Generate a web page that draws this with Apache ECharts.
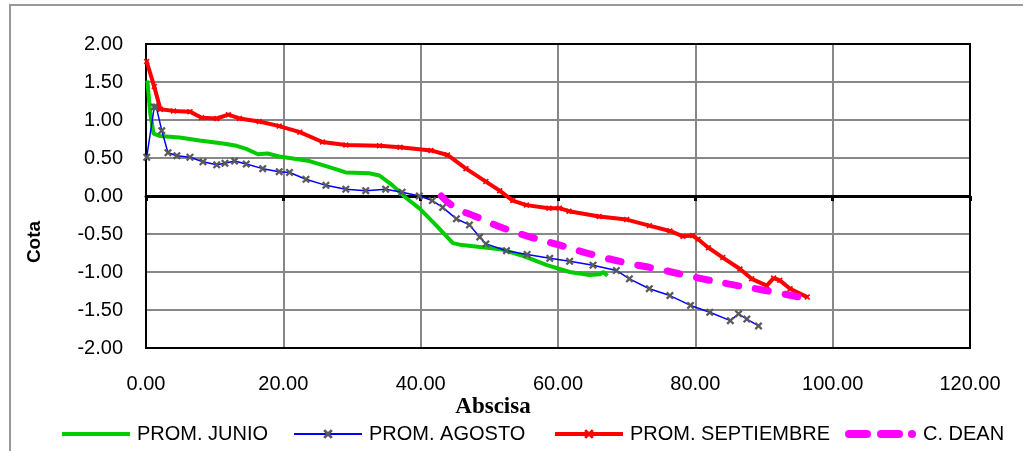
<!DOCTYPE html>
<html><head><meta charset="utf-8">
<script src="https://cdn.jsdelivr.net/npm/echarts@6/dist/echarts.min.js"></script>
<style>html,body{margin:0;padding:0;background:#fff}#c{width:1023px;height:451px}</style>
</head><body><div id="c"></div>
<script>
const seriesNames = ['PROM. JUNIO', 'PROM. AGOSTO', 'PROM. SEPTIEMBRE', 'C. DEAN'];
const xRange = [0, 120, 20];
const yRange = [-2, 2, 0.5];

const junio = [[0.2,1.52],[0.6,1.10],[1.1,0.82],[2,0.79],[4.9,0.77],[7.8,0.73],[11.2,0.69],[13.2,0.66],[14.6,0.62],[16.3,0.55],[17.7,0.56],[19.4,0.52],[20.9,0.50],[23.8,0.46],[26.7,0.38],[29.1,0.31],[32.5,0.30],[34,0.27],[35.9,0.14],[37.8,-0.02],[39.9,-0.17],[42.3,-0.39],[44.7,-0.62],[45.7,-0.64],[51.6,-0.70],[55,-0.79],[58.4,-0.91],[61.7,-1.00],[64.6,-1.04],[66.1,-1.03],[66.6,-1.00],[67.2,-1.05]];

const agosto = [[0.1,0.51],[1.2,1.17],[1.5,1.17],[2.3,0.86],[3.2,0.57],[4.5,0.53],[6.4,0.51],[8.3,0.45],[10.3,0.41],[11.5,0.43],[12.9,0.46],[14.6,0.42],[17,0.36],[19.4,0.32],[20.9,0.31],[23.3,0.22],[26.2,0.14],[29.1,0.09],[32,0.07],[34.9,0.09],[37.3,0.05],[39.8,0.0],[41.7,-0.06],[43.2,-0.15],[45.2,-0.30],[47.1,-0.38],[48.6,-0.54],[49.5,-0.63],[52.5,-0.72],[55.5,-0.77],[58.8,-0.82],[61.7,-0.86],[65.1,-0.91],[68.5,-0.98],[70.4,-1.09],[73.3,-1.22],[76.3,-1.31],[79.3,-1.44],[82.1,-1.53],[85.1,-1.64],[86.3,-1.55],[87.5,-1.62],[89.2,-1.71]];

const septiembre = [[0.1,1.77],[1.2,1.44],[2.1,1.14],[4,1.12],[6.4,1.11],[8.1,1.03],[10.3,1.02],[12,1.07],[13.6,1.02],[16.5,0.98],[19.4,0.92],[22.4,0.84],[25.7,0.71],[29.1,0.67],[34,0.66],[37,0.64],[41.5,0.60],[43.9,0.54],[46.6,0.36],[49.5,0.19],[51.5,0.07],[53.4,-0.06],[55.4,-0.12],[58.7,-0.16],[60.2,-0.16],[61.6,-0.20],[66,-0.27],[70,-0.31],[73.3,-0.39],[76.3,-0.46],[78.2,-0.53],[79.6,-0.52],[80.4,-0.57],[81.9,-0.68],[84,-0.81],[86.5,-0.96],[88.2,-1.09],[90.4,-1.18],[91.4,-1.08],[92.3,-1.11],[93.8,-1.22],[96.3,-1.33]];

const dean = [[43,0],[45,-0.15],[48,-0.27],[52,-0.42],[56,-0.54],[60,-0.64],[65,-0.77],[70,-0.88],[75,-0.97],[80,-1.07],[85,-1.16],[90,-1.24],[95.2,-1.33]];

const FONT = 'Liberation Sans, Arial, sans-serif';
const X_SYM = 'path://M0,2 L2,0 L5,3 L8,0 L10,2 L7,5 L10,8 L8,10 L5,7 L2,10 L0,8 L3,5 Z';
const DASH_ICON = 'path://M4,0 H22 A4,4 0 0 1 22,8 H4 A4,4 0 0 1 4,0 Z M36,0 H54 A4,4 0 0 1 54,8 H36 A4,4 0 0 1 36,0 Z M67,0 A4,4 0 0 1 67,8 A4,4 0 0 1 67,0 Z';
const fmt = v => v.toFixed(2);

const chart = echarts.init(document.getElementById('c'), null, {renderer: 'canvas'});
const legendBase = {
  orient: 'horizontal', top: 424, itemWidth: 68, itemHeight: 12, padding: 0,
  textStyle: {fontFamily: FONT, fontSize: 20, color: '#000', padding: [0,0,0,2]}
};
chart.setOption({
  animation: false,
  backgroundColor: '#fff',
  grid: {left: 146, right: 53, top: 44, bottom: 103, show: false},
  xAxis: [
    {type: 'value', min: xRange[0], max: xRange[1], interval: xRange[2], position: 'bottom',
     axisLine: {show: false, onZero: false}, axisTick: {show: false},
     axisLabel: {formatter: fmt, margin: 26, fontSize: 20, color: '#000', fontFamily: FONT},
     splitLine: {show: true, lineStyle: {color: '#888', width: 2}}},
    {type: 'value', min: xRange[0], max: xRange[1], interval: xRange[2], position: 'top',
     axisLine: {show: true, onZero: true, lineStyle: {color: '#000', width: 3}},
     axisTick: {show: true, inside: true, length: 5, lineStyle: {color: '#000', width: 3}},
     axisLabel: {show: false}, splitLine: {show: false}}
  ],
  yAxis: {type: 'value', min: yRange[0], max: yRange[1], interval: yRange[2],
    axisLine: {show: false}, axisTick: {show: false},
    axisLabel: {formatter: fmt, margin: 23, fontSize: 20, color: '#000', fontFamily: FONT},
    splitLine: {show: true, lineStyle: {color: '#888', width: 2}}},
  legend: [
    Object.assign({}, legendBase, {data: [{name: seriesNames[0], icon: 'rect'}], left: 62, itemHeight: 4}),
    Object.assign({}, legendBase, {data: [seriesNames[1]], left: 293}),
    Object.assign({}, legendBase, {data: [seriesNames[2]], left: 553, lineStyle: {width: 'inherit'}}),
    Object.assign({}, legendBase, {data: [{name: seriesNames[3], icon: DASH_ICON}], left: 845, itemWidth: 71, itemHeight: 8})
  ],
  graphic: [
    {type: 'rect', z: 1, silent: true, shape: {x: 10, y: 5, width: 1100, height: 500},
     style: {fill: 'none', stroke: '#999', lineWidth: 2}},
    {type: 'rect', z: 1, silent: true, shape: {x: 146, y: 44, width: 824, height: 304},
     style: {fill: 'none', stroke: '#000', lineWidth: 2}},
    {type: 'text', x: 493, y: 407, silent: true,
     style: {text: 'Abscisa', font: 'bold 23px "Liberation Serif", "Times New Roman", serif',
       fill: '#000', textAlign: 'center', textVerticalAlign: 'middle'}},
    {type: 'text', x: 35, y: 242, rotation: Math.PI / 2, silent: true,
     style: {text: 'Cota', font: 'bold 19px ' + FONT, fill: '#000', textAlign: 'center', textVerticalAlign: 'middle'}}
  ],
  series: [
    {name: seriesNames[0], type: 'line', data: junio, xAxisIndex: 0, symbol: 'none', z: 3,
     lineStyle: {color: '#00cc00', width: 4}, itemStyle: {color: '#00cc00'}},
    {name: seriesNames[1], type: 'line', data: agosto, xAxisIndex: 0, symbol: X_SYM, symbolSize: 8, z: 4,
     lineStyle: {color: '#0000ff', width: 1.5}, itemStyle: {color: '#5a5a5a'}},
    {name: seriesNames[2], type: 'line', data: septiembre, xAxisIndex: 0, symbol: X_SYM, symbolSize: 6, z: 5,
     lineStyle: {color: '#ff0000', width: 4}, itemStyle: {color: '#ff0000'}},
    {name: seriesNames[3], type: 'line', data: dean, xAxisIndex: 0, symbol: 'none', smooth: true, z: 6,
     lineStyle: {color: '#ff00ff', width: 7, type: [13, 17], cap: 'round'}, itemStyle: {color: '#ff00ff'}}
  ]
});
</script>
</body></html>
